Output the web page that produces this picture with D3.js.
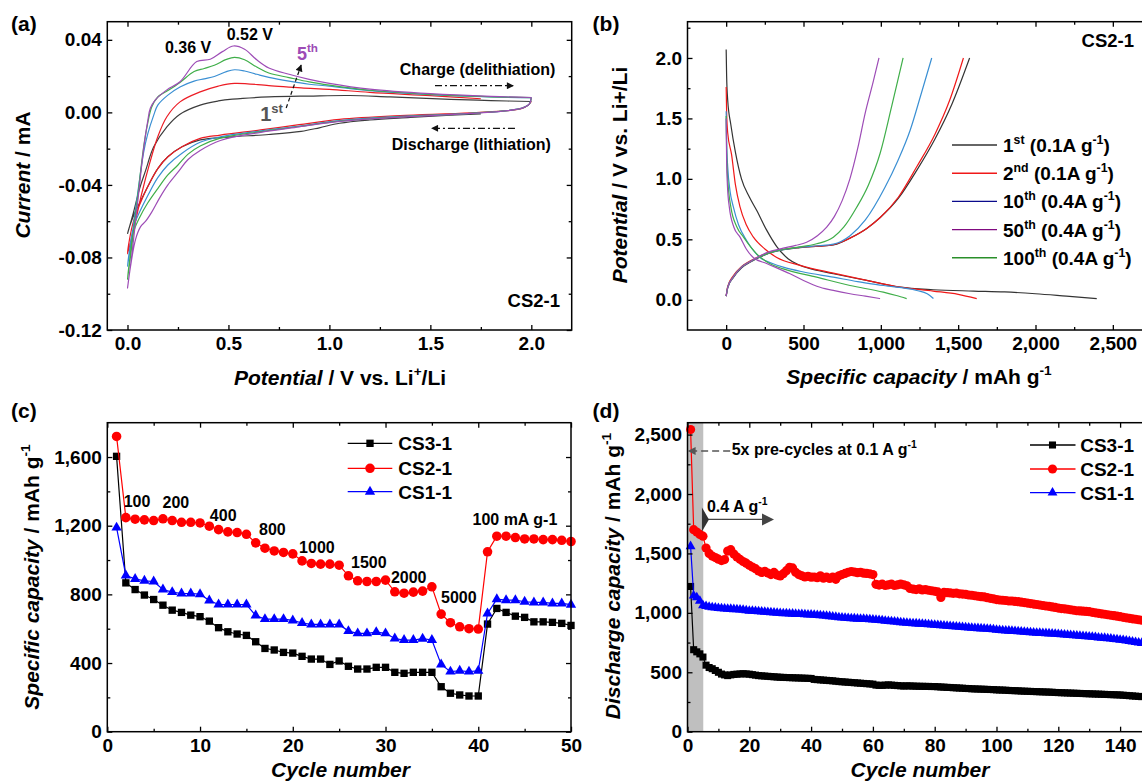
<!DOCTYPE html>
<html><head><meta charset="utf-8">
<script src="https://cdnjs.cloudflare.com/ajax/libs/d3/7.8.5/d3.min.js"></script>
<style>
body{margin:0;background:#fff;}
svg{display:block;}
</style></head><body>
<svg id="fig" width="1142" height="781"></svg>
<script>
// ---------------- DATA ----------------
// (a) cyclic voltammetry, [potential V, current mA]
const cvLower1 = [[1.75,-0.0008],[1.6,-0.0015],[1.4,-0.0028],[1.2,-0.0042],[1.05,-0.006],[0.95,-0.0085],[0.86,-0.0105],[0.7,-0.0122],[0.5,-0.0136],[0.36,-0.0152],[0.27,-0.019],[0.2,-0.0245],[0.15,-0.031],[0.1,-0.041],[0.06,-0.05],[0.03,-0.057],[0.01,-0.063],[0,-0.067]];
const cvUpper1 = [[0,-0.067],[0.03,-0.055],[0.06,-0.042],[0.09,-0.032],[0.13,-0.019],[0.195,-0.008],[0.26,-0.001],[0.36,0.004],[0.45,0.0063],[0.52,0.0073],[0.7,0.0085],[0.9,0.009],[1.1,0.0093],[1.3,0.0085],[1.6,0.0072],[1.8,0.0065],[2.0,0.006]];
const cvLower2 = [[2.0,0.006],[1.985,0.004],[1.95,0.002],[1.7,-0.0003],[1.35,-0.0018],[1.05,-0.0039],[0.85,-0.0068],[0.66,-0.0097],[0.46,-0.0125],[0.36,-0.0143],[0.27,-0.019],[0.2,-0.0245],[0.15,-0.031],[0.1,-0.041],[0.06,-0.051],[0.03,-0.06],[0.01,-0.07],[0,-0.078]];
const cvUpper2 = [[0,-0.078],[0.03,-0.065],[0.07,-0.045],[0.11,-0.028],[0.15,-0.0134],[0.195,-0.0024],[0.26,0.0058],[0.36,0.0113],[0.45,0.0145],[0.53,0.016],[0.7,0.0148],[0.86,0.0135],[1.0,0.0127],[1.2,0.011],[1.5,0.0092],[1.75,0.0075]];
const cvLower3 = [[2.0,0.0081],[1.99,0.0045],[1.95,0.0022],[1.7,-0.0005],[1.35,-0.0022],[1.05,-0.0045],[0.85,-0.0075],[0.66,-0.0102],[0.46,-0.0135],[0.36,-0.0165],[0.27,-0.0225],[0.2,-0.029],[0.15,-0.036],[0.1,-0.046],[0.06,-0.055],[0.03,-0.063],[0.01,-0.076],[0,-0.085]];
const cvUpper3 = [[0,-0.085],[0.02,-0.07],[0.05,-0.045],[0.08,-0.022],[0.1,-0.012],[0.13,-0.0015],[0.15,0.004],[0.2,0.0095],[0.26,0.014],[0.33,0.0172],[0.38,0.0185],[0.43,0.0198],[0.49,0.0225],[0.53,0.0235],[0.58,0.0228],[0.64,0.021],[0.7,0.0193],[0.8,0.0172],[0.9,0.0155],[1.0,0.0145],[1.2,0.012],[1.5,0.0098],[1.8,0.0085],[2.0,0.0081]];
const cvLower4 = [[2.0,0.0081],[1.99,0.0045],[1.95,0.0022],[1.7,-0.0005],[1.35,-0.0024],[1.05,-0.0048],[0.85,-0.0078],[0.66,-0.0106],[0.46,-0.0142],[0.36,-0.0185],[0.3,-0.023],[0.25,-0.029],[0.2,-0.0345],[0.15,-0.042],[0.1,-0.05],[0.06,-0.058],[0.03,-0.066],[0.01,-0.082],[0,-0.092]];
const cvUpper4 = [[0,-0.092],[0.02,-0.075],[0.05,-0.047],[0.08,-0.019],[0.1,-0.006],[0.12,0.003],[0.15,0.0085],[0.2,0.012],[0.26,0.0165],[0.33,0.0225],[0.38,0.0242],[0.43,0.026],[0.49,0.0292],[0.53,0.0303],[0.58,0.029],[0.64,0.025],[0.7,0.0217],[0.8,0.0192],[0.9,0.0168],[1.0,0.015],[1.2,0.0122],[1.5,0.0099],[1.8,0.0086],[2.0,0.0081]];
const cvLower5 = [[2.0,0.0082],[1.99,0.0045],[1.95,0.0022],[1.7,-0.0006],[1.35,-0.0026],[1.05,-0.005],[0.85,-0.008],[0.66,-0.011],[0.46,-0.0155],[0.36,-0.021],[0.3,-0.026],[0.25,-0.033],[0.2,-0.04],[0.16,-0.047],[0.12,-0.055],[0.09,-0.06],[0.065,-0.063],[0.04,-0.07],[0.015,-0.085],[0,-0.097]];
const cvUpper5 = [[0,-0.097],[0.02,-0.08],[0.05,-0.05],[0.08,-0.02],[0.1,-0.005],[0.113,0.0023],[0.137,0.0068],[0.195,0.0124],[0.26,0.0169],[0.343,0.028],[0.41,0.0293],[0.47,0.0335],[0.525,0.0366],[0.58,0.0348],[0.64,0.029],[0.7,0.0245],[0.8,0.021],[0.9,0.0182],[1.0,0.016],[1.2,0.0128],[1.5,0.0103],[1.8,0.0088],[2.0,0.0082]];

// (b) galvanostatic profiles, [capacity mAh/g, potential V]
const gcdLabels = ["1st","2nd","10th","50th","100th"];
const dis1st = [[0,2.07],[3,1.85],[10,1.65],[30,1.45],[60,1.22],[99,1.0],[150,0.85],[197,0.74],[260,0.58],[327,0.44],[400,0.34],[477,0.285],[600,0.24],[693,0.215],[909,0.16],[1124,0.104],[1338,0.083],[1600,0.072],[1800,0.065],[2000,0.05],[2200,0.03],[2396,0.01]];
const chg1st = [[0,0.03],[10,0.1],[47,0.185],[100,0.265],[154,0.31],[305,0.395],[477,0.432],[600,0.443],[693,0.453],[750,0.478],[801,0.51],[909,0.59],[996,0.68],[1114,0.84],[1232,1.07],[1350,1.33],[1460,1.62],[1574,2.0]];
const dis2nd = [[0,1.76],[3,1.55],[10,1.38],[35,1.2],[60,0.95],[89,0.77],[130,0.62],[175,0.52],[250,0.42],[327,0.35],[477,0.285],[693,0.22],[909,0.16],[1124,0.105],[1338,0.072],[1500,0.045],[1620,0.01]];
const chg2nd = [[0,0.03],[10,0.11],[47,0.2],[100,0.275],[154,0.32],[305,0.4],[477,0.434],[600,0.443],[693,0.455],[750,0.48],[801,0.51],[909,0.59],[996,0.68],[1114,0.85],[1232,1.1],[1350,1.37],[1445,1.65],[1534,2.0]];
const dis10th = [[0,1.56],[3,1.3],[10,1.1],[25,0.9],[46,0.77],[80,0.62],[132,0.49],[219,0.35],[300,0.3],[369,0.27],[500,0.23],[693,0.187],[850,0.15],[1016,0.118],[1232,0.077],[1300,0.05],[1340,0.01]];
const chg10th = [[0,0.03],[10,0.1],[47,0.19],[100,0.27],[154,0.315],[305,0.398],[477,0.435],[600,0.447],[693,0.46],[801,0.53],[900,0.66],[1027,0.93],[1110,1.15],[1189,1.4],[1260,1.7],[1329,2.0]];
const dis50th = [[0,1.5],[3,1.15],[8,0.95],[20,0.77],[50,0.6],[89,0.52],[130,0.42],[175,0.35],[262,0.3],[413,0.215],[500,0.16],[607,0.104],[700,0.075],[801,0.05],[900,0.03],[995,0.01]];
const chg50th = [[0,0.03],[10,0.1],[47,0.19],[100,0.27],[154,0.315],[262,0.39],[369,0.427],[450,0.45],[520,0.476],[590,0.53],[650,0.6],[700,0.69],[750,0.82],[800,1.0],[850,1.25],[900,1.55],[950,1.8],[988,2.0]];
const dis100th = [[0,1.52],[3,1.25],[10,1.0],[30,0.77],[70,0.6],[111,0.52],[197,0.38],[280,0.3],[369,0.256],[585,0.187],[801,0.118],[1016,0.063],[1100,0.035],[1167,0.01]];
const chg100th = [[0,0.03],[10,0.1],[47,0.19],[100,0.27],[154,0.315],[305,0.398],[434,0.43],[585,0.463],[693,0.517],[760,0.6],[844,0.765],[920,0.95],[995,1.21],[1070,1.6],[1144,2.0]];

// (c) rate capability, cycles 1..50 (mAh/g)
const rateCycles = [1,2,3,4,5,6,7,8,9,10,11,12,13,14,15,16,17,18,19,20,21,22,23,24,25,26,27,28,29,30,31,32,33,34,35,36,37,38,39,40,41,42,43,44,45,46,47,48,49,50];
const rateCS3 = [1604,867,828,796,770,737,708,695,679,670,644,606,582,569,561,524,485,476,462,458,439,423,423,392,412,381,365,365,375,375,346,340,346,346,346,262,224,214,208,208,627,718,695,673,666,640,640,637,631,619];
const rateCS2 = [1720,1247,1238,1234,1230,1240,1230,1220,1220,1216,1197,1177,1164,1160,1150,1100,1069,1053,1044,1036,995,980,976,976,970,908,879,875,875,883,815,807,813,819,844,685,635,611,600,598,1048,1139,1139,1131,1123,1123,1119,1119,1115,1108];
const rateCS1 = [1189,910,890,879,875,828,813,805,805,801,764,741,741,741,741,677,656,656,656,648,633,625,625,625,625,586,573,573,580,573,543,534,534,542,534,392,350,355,350,355,689,772,766,766,757,753,753,747,747,740];
const rateLabels = ["100","200","400","800","1000","1500","2000","5000","100 mA g-1"];
const rateLabelCycle = [3.2,7.4,12.5,17.8,22.6,28.2,32.5,37.9,43.95];
const rateLabelCap = [1346,1336,1264,1180,1075,988,903,786,1237];

// (d) long cycling, discharge capacity for cycles 1..147 (mAh/g)
const cycCS2 = [2543,1700,1680,1660,1645,1545,1500,1478,1465,1452,
1440,1448,1520,1532,1495,1470,1450,1432,1418,1400,
1385,1372,1352,1340,1350,1335,1322,1340,1318,1310,
1330,1355,1382,1378,1342,1322,1312,1302,1308,1300,
1302,1296,1312,1292,1300,1290,1302,1282,1312,1322,
1332,1342,1348,1344,1338,1342,1334,1332,1328,1322,
1240,1234,1242,1230,1236,1242,1230,1236,1242,1236,
1228,1205,1200,1196,1202,1192,1196,1190,1186,1182,
1176,1130,1172,1170,1168,1164,1166,1160,1158,1156,
1150,1148,1144,1140,1136,1134,1128,1122,1118,1112,
1108,1106,1104,1100,1100,1096,1094,1090,1086,1082,
1078,1074,1070,1066,1062,1058,1055,1050,1046,1040,
1036,1034,1030,1026,1022,1018,1016,1014,1012,1010,
1004,1000,996,992,988,984,980,976,972,968,
962,958,954,950,946,942,938];
const cycCS1 = [1560,1145,1130,1100,1062,1056,1050,1046,1044,1040,
1038,1036,1034,1032,1030,1028,1026,1024,1020,1017,
1016,1014,1012,1010,1008,1006,1004,1002,1000,998,
996,995,994,992,990,989,988,986,985,984,
982,980,978,976,974,971,968,965,962,960,
958,956,954,952,950,949,948,946,944,942,
940,938,936,933,930,928,926,923,920,918,
916,914,912,910,908,906,904,902,900,899,
897,895,893,890,888,886,884,882,880,878,
876,874,872,870,868,866,864,862,860,857,
855,853,851,849,847,845,843,841,839,838,
836,834,832,830,829,828,826,824,822,820,
818,816,814,812,810,808,806,804,802,799,
797,795,792,790,788,785,782,779,776,773,
770,766,762,758,754,750,746];
const cycCS3 = [1222,690,672,655,628,560,540,530,515,500,
485,478,472,478,482,484,486,488,486,484,
480,476,472,470,468,466,464,462,460,458,
457,456,455,454,453,452,451,450,449,448,
440,438,436,434,432,430,428,425,422,420,
418,416,414,412,410,408,406,404,402,400,
392,390,390,392,394,392,390,388,386,384,
386,385,384,383,382,382,381,381,380,380,
378,376,375,373,372,370,369,367,366,364,
363,361,360,359,358,357,356,355,354,352,
351,350,349,347,346,345,344,342,341,340,
339,338,337,336,335,334,333,332,330,329,
328,327,326,325,324,323,322,321,320,319,
318,317,316,315,314,313,312,311,310,309,
307,305,303,301,299,297,295];
const seriesNames = ["CS3-1","CS2-1","CS1-1"];

// ---------------- DRAWING ----------------
const FONT = '"Liberation Sans", Arial, Helvetica, sans-serif';
const svg = d3.select('#fig').attr('font-family', FONT).attr('font-weight','bold');
svg.append('rect').attr('width',1142).attr('height',781).attr('fill','#fff');
const defs = svg.append('defs');
function marker(id, color, w, h){
  defs.append('marker').attr('id',id).attr('viewBox','0 0 10 10').attr('refX',9).attr('refY',5)
    .attr('markerWidth',w).attr('markerHeight',h).attr('orient','auto').attr('markerUnits','userSpaceOnUse')
    .append('path').attr('d','M0,0L10,5L0,10Z').attr('fill',color);
}
marker('arrK','#111',8,7);
marker('arrG','#555',9,8);

function rich(parent, x, y, parts, o){
  o = o || {};
  const size = o.size || 19;
  const t = parent.append('text').attr('x',x).attr('y',y).attr('font-size',size)
    .attr('text-anchor',o.anchor||'start').attr('fill',o.fill||'#000')
    .attr('font-family',FONT).attr('font-weight','bold').style('white-space','pre');
  if (o.rot) t.attr('transform',`rotate(-90,${o.rot[0]},${o.rot[1]})`);
  let cur = 0;
  parts.forEach(p=>{
    const s = Array.isArray(p)?p[0]:p, k = Array.isArray(p)?p[1]:'n';
    const ts = t.append('tspan').text(s);
    const target = k==='sup' ? -0.42*size : 0;
    if (target!==cur) ts.attr('dy', target-cur);
    cur = target;
    if (k==='sup') ts.attr('font-size', size*0.65);
    if (k==='it' || o.italic) ts.attr('font-style','italic');
  });
  return t;
}

function frame(g, x, y, c){
  const [x0,x1] = x.range(), [yb,yt] = y.range();
  const mk = (axisFn, scale, vals, size, fmt, pad, tr)=>{
    const a = axisFn(scale).tickValues(vals).tickSizeInner(size).tickSizeOuter(0).tickPadding(pad)
      .tickFormat(fmt || (()=>''));
    const gg = g.append('g').attr('transform',tr).call(a);
    gg.select('.domain').remove();
    gg.selectAll('line').attr('stroke','#000').attr('stroke-width',1.3);
    gg.selectAll('text').attr('font-size',19).attr('font-family',FONT).attr('font-weight','bold').attr('fill','#000');
  };
  mk(d3.axisBottom, x, c.xt, -5, c.xf, 6.5, `translate(0,${yb})`);
  mk(d3.axisBottom, x, c.xm, -3, null, 0, `translate(0,${yb})`);
  mk(d3.axisTop, x, c.xt, -5, null, 0, `translate(0,${yt})`);
  mk(d3.axisTop, x, c.xm, -3, null, 0, `translate(0,${yt})`);
  mk(d3.axisLeft, y, c.yt, -5, c.yf, 5.5, `translate(${x0},0)`);
  mk(d3.axisLeft, y, c.ym, -3, null, 0, `translate(${x0},0)`);
  mk(d3.axisRight, y, c.yt, -5, null, 0, `translate(${x1},0)`);
  mk(d3.axisRight, y, c.ym, -3, null, 0, `translate(${x1},0)`);
  g.append('rect').attr('x',x0).attr('y',yt).attr('width',x1-x0).attr('height',yb-yt)
    .attr('fill','none').attr('stroke','#000').attr('stroke-width',1.5);
}

// ===== Panel (a) =====
{
  const g = svg.append('g');
  const x = d3.scaleLinear().domain([-0.1,2.2]).range([107.3,571.7]);
  const y = d3.scaleLinear().domain([-0.12,0.05]).range([330,21.7]);
  const loops = [cvLower1.concat(cvUpper1.slice(1)), cvLower2.concat(cvUpper2.slice(1)),
    cvLower3.concat(cvUpper3.slice(1)), cvLower4.concat(cvUpper4.slice(1)), cvLower5.concat(cvUpper5.slice(1))];
  const cols = ['#3c3c3c','#ec1c24','#3a8fd3','#3fae49','#9d4cb6'];
  const line = d3.line().x(d=>x(d[0])).y(d=>y(d[1])).curve(d3.curveCatmullRom.alpha(0.5));
  loops.forEach((d,i)=> g.append('path').attr('d',line(d)).attr('fill','none').attr('stroke',cols[i]).attr('stroke-width',1.2));
  frame(g,x,y,{xt:[0,0.5,1,1.5,2], xm:[0.25,0.75,1.25,1.75], xf:d=>d.toFixed(1),
    yt:[-0.12,-0.08,-0.04,0,0.04], ym:[-0.1,-0.06,-0.02,0.02], yf:d=>d.toFixed(2)});
  rich(g, x(0.3), y(0.0328), ['0.36 V'], {size:16, anchor:'middle'});
  rich(g, x(0.606), y(0.0399), ['0.52 V'], {size:16, anchor:'middle'});
  rich(g, x(0.839), y(0.0289), ['5',['th','sup']], {size:18, fill:'#9d4cb6'});
  rich(g, x(0.657), y(-0.0048), ['1',['st','sup']], {size:20, fill:'#555'});
  g.append('line').attr('x1',x(0.786)).attr('y1',y(0.0024)).attr('x2',x(0.86)).attr('y2',y(0.0261))
    .attr('stroke','#111').attr('stroke-width',1.2).attr('stroke-dasharray','4,3').attr('marker-end','url(#arrK)');
  rich(g, x(1.734), y(0.0206), ['Charge (delithiation)'], {size:16, anchor:'middle'});
  g.append('line').attr('x1',x(1.523)).attr('y1',y(0.0147)).attr('x2',x(1.91)).attr('y2',y(0.0147))
    .attr('stroke','#111').attr('stroke-width',1.2).attr('stroke-dasharray','7,3,2,3').attr('marker-end','url(#arrK)');
  rich(g, x(1.703), y(-0.0207), ['Discharge (lithiation)'], {size:16, anchor:'middle'});
  g.append('line').attr('x1',x(1.919)).attr('y1',y(-0.0088)).attr('x2',x(1.507)).attr('y2',y(-0.0088))
    .attr('stroke','#111').attr('stroke-width',1.2).attr('stroke-dasharray','7,3,2,3').attr('marker-end','url(#arrK)');
  rich(g, x(2.142), y(-0.1073), ['CS2-1'], {size:18.5, anchor:'end'});
  rich(g, 11, 31, ['(a)'], {size:21});
  rich(g, 22.5, 175+7.5, [['Current','it'],' / mA'], {size:21, anchor:'middle', rot:[22.5,175]});
  rich(g, 340, 385, [['Potential','it'],' / V vs. Li',['+','sup'],'/Li'], {size:21, anchor:'middle'});
}

// ===== Panel (b) =====
{
  const g = svg.append('g');
  const x = d3.scaleLinear().domain([-250,2750]).range([687.5,1151.5]);
  const y = d3.scaleLinear().domain([-0.25,2.3]).range([330,21.7]);
  const curves = [[dis1st,chg1st],[dis2nd,chg2nd],[dis10th,chg10th],[dis50th,chg50th],[dis100th,chg100th]];
  const cols = ['#333333','#f01818','#3a8fd3','#9d4cb6','#3fae49'];
  const legCols = ['#333333','#f01818','#0a0a8c','#800a80','#2a8f2a'];
  const line = d3.line().x(d=>x(d[0])).y(d=>y(d[1])).curve(d3.curveMonotoneX);
  const order = [0,1,2,4,3];
  order.forEach(i=>{
    curves[i].forEach(c=> g.append('path').attr('d',line(c)).attr('fill','none').attr('stroke',cols[i]).attr('stroke-width',1.2));
  });
  frame(g,x,y,{xt:[0,500,1000,1500,2000,2500], xm:[250,750,1250,1750,2250,2750], xf:d3.format(','),
    yt:[0,0.5,1,1.5,2], ym:[0.25,0.75,1.25,1.75,2.25], yf:d=>d.toFixed(1)});
  const rates = ['0.1A g','0.1A g','0.4A g','0.4A g','0.4A g'];
  gcdLabels.forEach((lab,i)=>{
    const yy = 145 + i*28.2;
    g.append('line').attr('x1',952).attr('x2',997).attr('y1',yy).attr('y2',yy).attr('stroke',legCols[i]).attr('stroke-width',1.4);
    const num = lab.replace(/[a-z]+/,''), suf = lab.replace(/[0-9]+/,'');
    rich(g, 1003, yy+7, [num,[suf,'sup'],' ('+rates[i],['-1','sup'],')'], {size:19});
  });
  rich(g, x(2637), y(2.091), ['CS2-1'], {size:18.5, anchor:'end'});
  rich(g, 592.6, 31, ['(b)'], {size:21});
  rich(g, 619, 175+7.5, [['Potential','it'],' / V vs. Li+/Li'], {size:21, anchor:'middle', rot:[619,175]});
  rich(g, 919, 384, [['Specific capacity','it'],' / mAh g',['-1','sup']], {size:21, anchor:'middle'});
}

// ===== Panel (c) =====
{
  const g = svg.append('g');
  const x = d3.scaleLinear().domain([0,50]).range([107.3,571]);
  const y = d3.scaleLinear().domain([0,1800]).range([731.7,422.7]);
  const sets = [rateCS3, rateCS2, rateCS1];
  const cols = ['#000','#ff0000','#0000ff'];
  const syms = [d3.symbol().type(d3.symbolSquare).size(54)(), d3.symbol().type(d3.symbolCircle).size(72)(), d3.symbol().type(d3.symbolTriangle).size(46)()];
  const line = d3.line().x((d,i)=>x(rateCycles[i])).y(d=>y(d));
  sets.forEach((s,k)=>{
    g.append('path').attr('d',line(s)).attr('fill','none').attr('stroke',cols[k]).attr('stroke-width',1.2);
    g.selectAll(null).data(s).enter().append('path').attr('d',syms[k])
      .attr('transform',(d,i)=>`translate(${x(rateCycles[i])},${y(d)})`).attr('fill',cols[k]);
  });
  frame(g,x,y,{xt:[0,10,20,30,40,50], xm:[5,15,25,35,45], xf:d3.format('d'),
    yt:[0,400,800,1200,1600], ym:[200,600,1000,1400], yf:d3.format(',')});
  rateLabels.forEach((t,i)=> rich(g, x(rateLabelCycle[i]), y(rateLabelCap[i])+6, [t], {size:16, anchor:'middle'}));
  seriesNames.forEach((n,k)=>{
    const yy = [443.3,468.3,491.7][k];
    g.append('line').attr('x1',347.7).attr('x2',392.3).attr('y1',yy).attr('y2',yy).attr('stroke',cols[k]).attr('stroke-width',1.3);
    g.append('path').attr('d',syms[k]).attr('transform',`translate(370,${yy})`).attr('fill',cols[k]);
    rich(g, 398.3, yy+6.8, [n], {size:19});
  });
  rich(g, 11, 418, ['(c)'], {size:21});
  rich(g, 31.8, 577+7.5, [['Specific capacity','it'],' / mAh g',['-1','sup']], {size:21, anchor:'middle', rot:[31.8,577]});
  rich(g, 340.5, 777, ['Cycle number'], {size:21, anchor:'middle', italic:true});
}

// ===== Panel (d) =====
{
  const g = svg.append('g');
  const x = d3.scaleLinear().domain([0,150]).range([687.5,1151]);
  const y = d3.scaleLinear().domain([0,2600]).range([731.7,422.7]);
  g.append('rect').attr('x',x(0)).attr('y',y(2600)).attr('width',x(5.1)-x(0)).attr('height',y(0)-y(2600)).attr('fill','#bfbfbf');
  const sets = [cycCS3, cycCS2, cycCS1];
  const cols = ['#000','#ff0000','#0000ff'];
  const syms = [d3.symbol().type(d3.symbolSquare).size(50)(), d3.symbol().type(d3.symbolCircle).size(66)(), d3.symbol().type(d3.symbolTriangle).size(42)()];
  const line = d3.line().x((d,i)=>x(i+1)).y(d=>y(d));
  sets.forEach((s,k)=>{
    g.append('path').attr('d',line(s)).attr('fill','none').attr('stroke',cols[k]).attr('stroke-width',1.2);
    g.selectAll(null).data(s).enter().append('path').attr('d',syms[k])
      .attr('transform',(d,i)=>`translate(${x(i+1)},${y(d)})`).attr('fill',cols[k]);
  });
  frame(g,x,y,{xt:[0,20,40,60,80,100,120,140], xm:[10,30,50,70,90,110,130,150], xf:d3.format('d'),
    yt:[0,500,1000,1500,2000,2500], ym:[250,750,1250,1750,2250], yf:d3.format(',')});
  // annotations
  g.append('line').attr('x1',x(13.8)).attr('y1',y(2362)).attr('x2',x(0.3)).attr('y2',y(2362))
    .attr('stroke','#555').attr('stroke-width',1.3).attr('stroke-dasharray','7,4').attr('marker-end','url(#arrG)');
  rich(g, x(14.3), y(2328), ['5x pre-cycles at 0.1 A g',['-1','sup']], {size:16});
  const ay = y(1786), ax0 = x(5.0), ax1 = x(28.0);
  g.append('line').attr('x1',ax0).attr('y1',ay).attr('x2',ax1-10).attr('y2',ay).attr('stroke','#444').attr('stroke-width',1.3);
  g.append('path').attr('d',`M${ax1-12},${ay-6}L${ax1},${ay}L${ax1-12},${ay+6}Z`).attr('fill','#444');
  g.append('path').attr('d',`M${ax0-1},${ay-12}L${ax0+6},${ay}L${ax0-1},${ay+12}Z`).attr('fill','#333');
  rich(g, x(6.3), y(1849), ['0.4 A g',['-1','sup']], {size:16});
  seriesNames.forEach((n,k)=>{
    const yy = [445,469,492.7][k];
    g.append('line').attr('x1',1030).attr('x2',1075.5).attr('y1',yy).attr('y2',yy).attr('stroke',cols[k]).attr('stroke-width',1.3);
    g.append('path').attr('d',syms[k]).attr('transform',`translate(1052.5,${yy})`).attr('fill',cols[k]);
    rich(g, 1080.2, yy+6.8, [n], {size:19});
  });
  rich(g, 592.6, 418, ['(d)'], {size:21});
  rich(g, 612, 576+7.5, [['Discharge capacity','it'],' / mAh g',['-1','sup']], {size:21, anchor:'middle', rot:[612,576]});
  rich(g, 920, 777, ['Cycle number'], {size:21, anchor:'middle', italic:true});
}
</script></body></html>
